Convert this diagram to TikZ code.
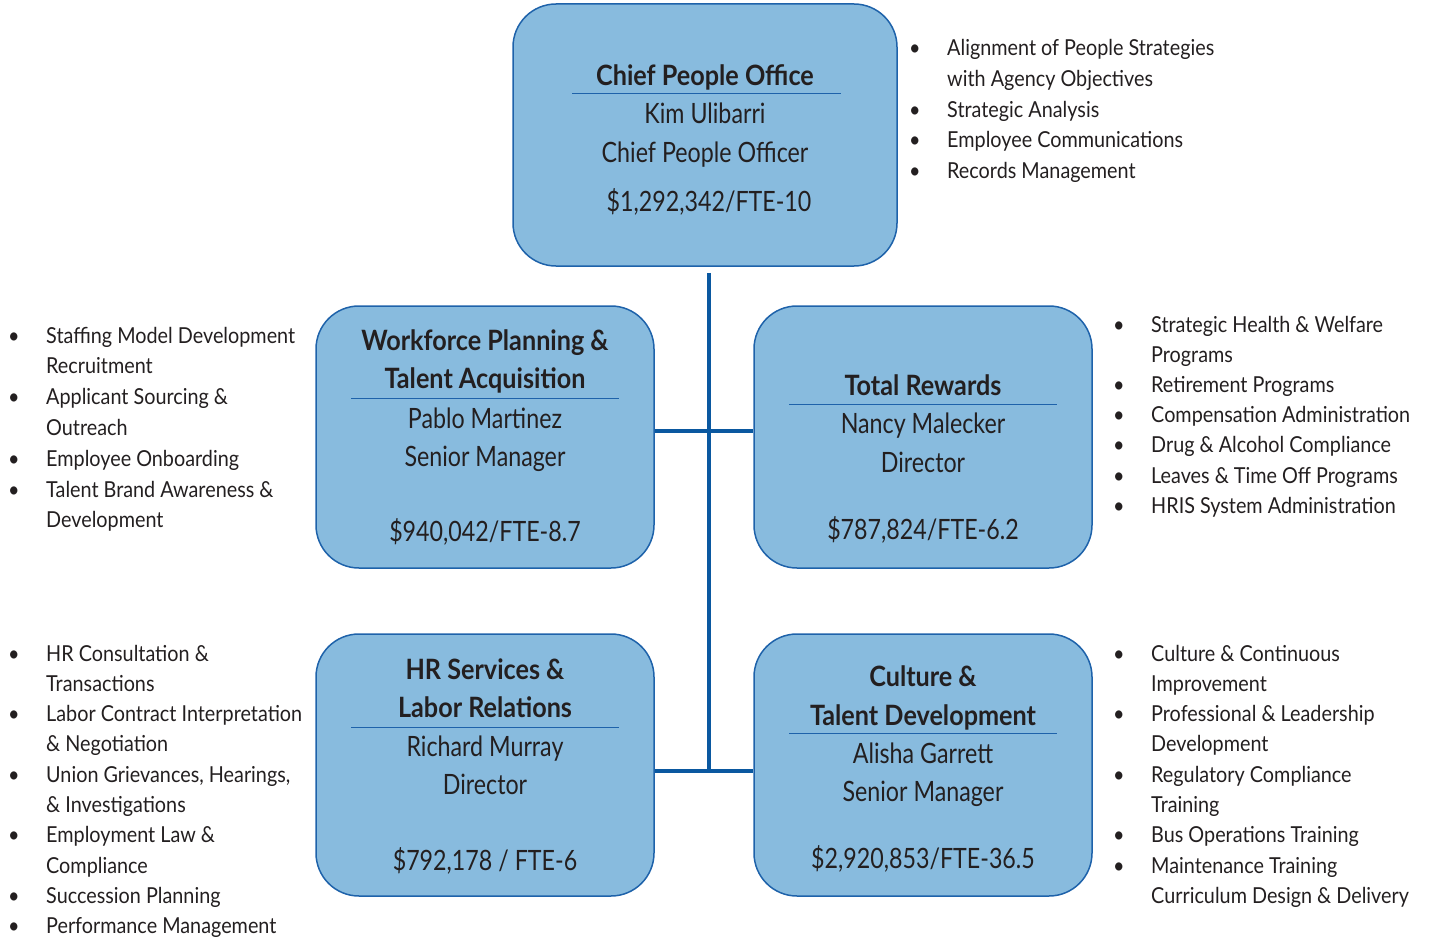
\documentclass[tikz,border=0pt]{standalone}
\usepackage{fontspec}
\setmainfont{Lato}[FakeStretch=0.83]
\newfontfamily\headfont{Lato}[FakeStretch=0.9]
\newfontfamily\listfont{Lato}[FakeStretch=0.9]
\usepackage{tikz}

\definecolor{boxfill}{RGB}{136,187,222}
\definecolor{boxline}{RGB}{30,98,170}
\definecolor{linkblue}{RGB}{10,88,160}
\definecolor{ink}{RGB}{35,31,32}

\newcommand{\itembul}{\llap{\makebox[38pt][l]{\textbullet}}}

\begin{document}
\begin{tikzpicture}[x=1pt,y=-1pt,
  box/.style={draw=boxline,line width=1.5pt,fill=boxfill,rounded corners=43pt,
    minimum width=338pt,minimum height=262pt,inner sep=0},
  head/.style={anchor=base,inner sep=0,text=ink,font=\fontsize{28}{34}\headfont\bfseries},
  info/.style={anchor=base,inner sep=0,text=ink,font=\fontsize{28}{34}\selectfont},
  item/.style={anchor=base west,inner sep=0,text=ink,font=\fontsize{22}{30}\listfont},
  rule/.style={boxline,line width=1pt},
  link/.style={linkblue,line width=3.5pt}]
  \useasboundingbox (0,0) rectangle (1432,942);

  % Boxes
  \node[box,minimum width=384pt] (cpo) at (705,135) {};
  \node[box] (wp) at (485,437) {};
  \node[box] (tr) at (923,437) {};
  \node[box] (hr) at (485,765) {};
  \node[box] (ctd) at (923,765) {};

  % Connectors
  \coordinate (j1) at (709,431);
  \coordinate (j2) at (709,771);
  \draw[link] ([yshift=-6pt]cpo.south -| j1) -- (j2);
  \draw[link] (wp.east |- j1) -- (tr.west |- j1);
  \draw[link] (hr.east |- j2) -- (ctd.west |- j2);

  % Chief People Office
  \node[head] (cpo-h) at (705,85) {Chief People Office};
  \draw[rule] (572,93) -- (841,93);
  \node[info] (cpo-n) at (705,123) {Kim Ulibarri};
  \node[info] (cpo-r) at (705,162) {Chief People Officer};
  \node[info] (cpo-c) at (709,211) {\$1,292,342/FTE-10};

  % Workforce Planning
  \node[head] (wp-h1) at (485,350) {Workforce Planning \&};
  \node[head] (wp-h2) at (485,388) {Talent Acquisition};
  \draw[rule] (351,398) -- (619,398);
  \node[info] (wp-n) at (485,428) {Pablo Martinez};
  \node[info] (wp-r) at (485,466) {Senior Manager};
  \node[info] (wp-c) at (485,541) {\$940,042/FTE-8.7};

  % Total Rewards
  \node[head] (tr-h) at (923,395) {Total Rewards};
  \draw[rule] (789,404) -- (1057,404);
  \node[info] (tr-n) at (923,433) {Nancy Malecker};
  \node[info] (tr-r) at (923,472) {Director};
  \node[info] (tr-c) at (923,539) {\$787,824/FTE-6.2};

  % HR Services
  \node[head] (hr-h1) at (485,679) {HR Services \&};
  \node[head] (hr-h2) at (485,717) {Labor Relations};
  \draw[rule] (351,727) -- (619,727);
  \node[info] (hr-n) at (485,756) {Richard Murray};
  \node[info] (hr-r) at (485,794) {Director};
  \node[info] (hr-c) at (485,870) {\$792,178 / FTE-6};

  % Culture & Talent Development
  \node[head] (ctd-h1) at (923,686) {Culture \&};
  \node[head] (ctd-h2) at (923,725) {Talent Development};
  \draw[rule] (789,733) -- (1057,733);
  \node[info] (ctd-n) at (923,763) {Alisha Garrett};
  \node[info] (ctd-r) at (923,801) {Senior Manager};
  \node[info] (ctd-c) at (923,868) {\$2,920,853/FTE-36.5};

  % Duty lists
  \foreach \t [count=\i] in {{\itembul Alignment of People Strategies},{with Agency Objectives},
      {\itembul Strategic Analysis},{\itembul Employee Communications},{\itembul Records Management}}
    \node[item] (cpo-l\i) at (947,{56+30.5*(\i-1)}) {\t};

  \foreach \t [count=\i] in {{\itembul Staffing Model Development},{Recruitment},
      {\itembul Applicant Sourcing \&},{Outreach},{\itembul Employee Onboarding},
      {\itembul Talent Brand Awareness \&},{Development}}
    \node[item] (wp-l\i) at (46,{343+30.8*(\i-1)}) {\t};

  \foreach \t [count=\i] in {{\itembul Strategic Health \& Welfare},{Programs},
      {\itembul Retirement Programs},{\itembul Compensation Administration},
      {\itembul Drug \& Alcohol Compliance},{\itembul Leaves \& Time Off Programs},
      {\itembul HRIS System Administration}}
    \node[item] (tr-l\i) at (1151,{332+30.2*(\i-1)}) {\t};

  \foreach \t [count=\i] in {{\itembul HR Consultation \&},{Transactions},
      {\itembul Labor Contract Interpretation},{\& Negotiation},
      {\itembul Union Grievances, Hearings,},{\& Investigations},
      {\itembul Employment Law \&},{Compliance},
      {\itembul Succession Planning},{\itembul Performance Management}}
    \node[item] (hr-l\i) at (46,{661+30.3*(\i-1)}) {\t};

  \foreach \t [count=\i] in {{\itembul Culture \& Continuous},{Improvement},
      {\itembul Professional \& Leadership},{Development},
      {\itembul Regulatory Compliance},{Training},
      {\itembul Bus Operations Training},{\itembul Maintenance Training},
      {Curriculum Design \& Delivery}}
    \node[item] (ctd-l\i) at (1151,{661+30.3*(\i-1)}) {\t};
\end{tikzpicture}
\end{document}
